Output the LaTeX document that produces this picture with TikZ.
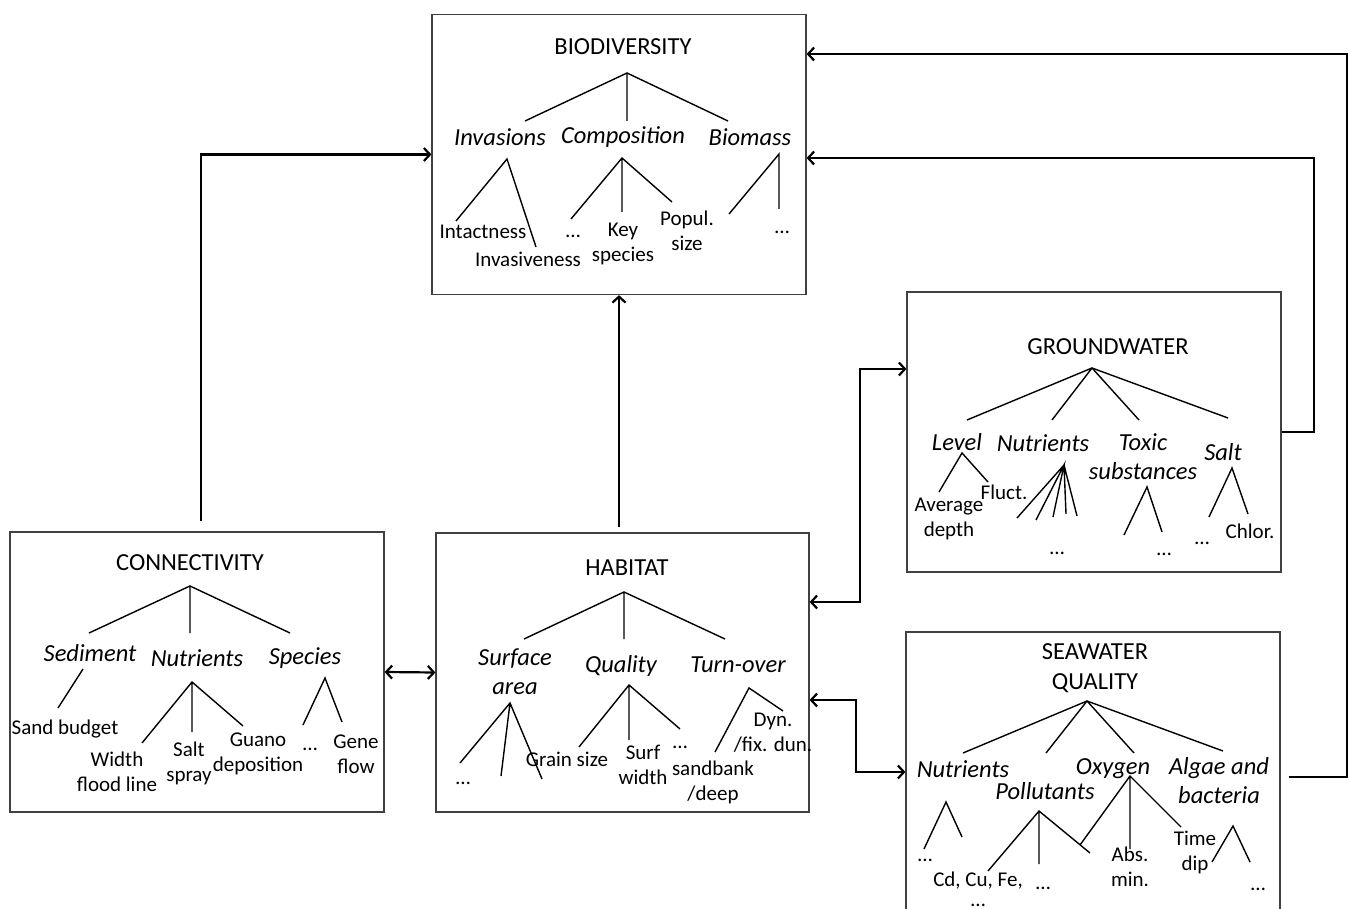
\documentclass[tikz,border=0pt]{standalone}
\usepackage{fontspec}
\setmainfont{Carlito}
\usetikzlibrary{arrows.meta,calc}

\tikzset{
  panel/.style={draw=black!75, line width=1.2pt, minimum width=374pt, minimum height=280pt, inner sep=0pt},
  heading/.style={font=\fontsize{24.5}{30}\selectfont, align=center, inner sep=0pt},
  factor/.style={font=\fontsize{24.5}{29}\selectfont\itshape, align=center, inner sep=0pt},
  leaf/.style={font=\fontsize{21}{25}\selectfont, align=center, inner sep=0pt},
  branch/.style={line width=1.4pt},
  link/.style={line width=2.2pt, -{Straight Barb[length=6pt,width=13pt]}},
  twoway/.style={line width=2.2pt, {Straight Barb[length=6pt,width=13pt]}-{Straight Barb[length=6pt,width=13pt]}},
}

\begin{document}
\begin{tikzpicture}[x=1pt, y=-1pt]
  \useasboundingbox (0,0) rectangle (1349,909);

  % Boxes
  \node[panel] (bio) at (619,154.5) {};
  \node[panel] (conn) at (197,672) {};
  \node[panel, minimum width=373pt, minimum height=279pt] (hab) at (622.5,672.5) {};
  \node[panel] (ground) at (1094,432) {};
  \node[panel] (sea) at (1093,772) {};

  % Biodiversity tree
  \node[heading] (bioT) at (623,47) {BIODIVERSITY};
  \draw[branch] (525,121) -- (627,73) -- (728,121) (627,73) -- (627,121);
  \node[factor] (inv) at (500,137) {Invasions};
  \node[factor] (comp) at (623,137) {Composition};
  \node[factor] (bmass) at (750,137) {Biomass};
  \draw[branch] (456,221) -- (507,159) -- (536,247);
  \draw[branch] (571,219) -- (622,158) -- (672,202) (622,158) -- (622,212);
  \draw[branch] (729,214) -- (779,154) -- (779,209);
  \node[leaf] (intact) at (483,232) {Intactness};
  \node[leaf] (invas) at (528,259) {Invasiveness};
  \node[leaf] (compX) at (573,236) {…};
  \node[leaf] (key) at (623,244) {Key\\species};
  \node[leaf] (popul) at (687,231) {Popul.\\size};
  \node[leaf] (bmassX) at (782,232) {…};

  % Connectivity tree
  \node[heading] (connT) at (190,563) {CONNECTIVITY};
  \draw[branch] (89,633) -- (190,586) -- (290,633) (190,586) -- (190,633);
  \node[factor] (sedi) at (90,653) {Sediment};
  \node[factor] (nutC) at (197,658) {Nutrients};
  \node[factor] (spec) at (305,658) {Species};
  \draw[branch] (83,669) -- (58,708);
  \draw[branch] (142,743) -- (192,682) -- (243,726) (192,682) -- (192,732);
  \draw[branch] (303,725) -- (325,678) -- (342,722);
  \node[leaf] (sand) at (65,729) {Sand budget};
  \node[leaf] (flood) at (117,772) {Width\\flood line};
  \node[leaf] (spray) at (189,763) {Salt\\spray};
  \node[leaf] (guano) at (258,754) {Guano\\deposition};
  \node[leaf] (specX) at (310,749) {…};
  \node[leaf] (gene) at (356,754) {Gene\\flow};

  % Habitat tree
  \node[heading] (habT) at (627,568) {HABITAT};
  \draw[branch] (524,639) -- (624,592) -- (725,639) (624,592) -- (624,639);
  \node[factor] (surf) at (515,672) {Surface\\area};
  \node[factor] (qual) at (621,666) {Quality};
  \node[factor] (turn) at (738,665) {Turn-over};
  \draw[branch] (460,763) -- (510,703) -- (542,779) (510,703) -- (501,776);
  \draw[branch] (579,747) -- (629,685) -- (680,729) (629,685) -- (629,740);
  \draw[branch] (715,752) -- (749,688) -- (783,711);
  \node[leaf] (surfX) at (463,783) {…};
  \node[leaf] (grain) at (567,759) {Grain size};
  \node[leaf] (width) at (643,765) {Surf\\width};
  \node[leaf] (qualX) at (680,747) {…};
  \node[leaf] (dyn) at (773,733) {Dyn.\\/fix. dun.};
  \node[leaf] (bank) at (713,782) {sandbank\\/deep};

  % Groundwater tree
  \node[heading] (groundT) at (1108,347) {GROUNDWATER};
  \draw[branch] (967,420) -- (1092,368) -- (1228,418) (1052,420) -- (1092,368) -- (1139,420);
  \node[factor] (level) at (957,442) {Level};
  \node[factor] (nutG) at (1043,443) {Nutrients};
  \node[factor] (toxic) at (1143,457) {Toxic\\substances};
  \node[factor] (salt) at (1223,452) {Salt};
  \draw[branch] (939,492) -- (962,453) -- (988,482);
  \draw[branch] (1017,518) -- (1064,465) -- (1077,516) (1036,520) -- (1064,465) -- (1053,517) (1064,465) -- (1066,514);
  \draw[branch] (1124,535) -- (1147,487) -- (1162,532);
  \draw[branch] (1209,517) -- (1232,468) -- (1248,514);
  \node[leaf] (fluct) at (1004,492) {Fluct.};
  \node[leaf] (depth) at (949,519) {Average\\depth};
  \node[leaf] (nutGX) at (1057,553) {…};
  \node[leaf] (toxicX) at (1164,554) {…};
  \node[leaf] (saltX) at (1202,543) {…};
  \node[leaf] (chlor) at (1250,531) {Chlor.};

  % Seawater tree
  \node[heading] (seaT) at (1095,668) {SEAWATER\\QUALITY};
  \draw[branch] (963,753) -- (1087,701) -- (1223,751) (1046,753) -- (1087,701) -- (1134,753);
  \node[factor] (nutS) at (963,769) {Nutrients};
  \node[factor] (oxy) at (1113,769) {Oxygen};
  \node[factor] (algae) at (1219,781) {Algae and\\bacteria};
  \node[factor] (poll) at (1045,791) {Pollutants};
  \draw[branch] (924,849) -- (946,802) -- (962,837);
  \draw[branch] (988,871) -- (1039,811) -- (1090,853) (1039,811) -- (1039,864);
  \draw[branch] (1080,845) -- (1130,776) -- (1181,827) (1130,776) -- (1130,849);
  \draw[branch] (1212,862) -- (1233,826) -- (1250,862);
  \node[leaf] (nutSX) at (925,860) {…};
  \node[leaf] (metal) at (978,889) {Cd, Cu, Fe,\\[-5pt]…};
  \node[leaf] (pollX) at (1043,888) {…};
  \node[leaf] (absmin) at (1130,867) {Abs.\\min.};
  \node[leaf] (dip) at (1195,852) {Time\\dip};
  \node[leaf] (algaeX) at (1258,889) {…};

  % Links between boxes
  \draw[link] ([xshift=4pt,yshift=10pt]conn.north) |- (bio.west);
  \draw[link] ($(bio.south |- hab.north)+(0,-5)$) -- (bio.south);
  \draw[twoway] (conn.east) -- (hab.west);
  \coordinate (habG) at ([yshift=70.5pt]hab.east);
  \coordinate (habS) at ([yshift=-27.5pt]hab.east);
  \coordinate (groundIn) at ([yshift=63pt]ground.west);
  \coordinate (bioLow) at ([yshift=-3.5pt]bio.east);
  \coordinate (bioHigh) at ([yshift=100.5pt]bio.east);
  \coordinate (seaOut) at ([xshift=8pt,yshift=-5pt]sea.east);
  \draw[twoway] (habG) -- ++(50,0) |- (groundIn);
  \draw[twoway] (habS) -- ++(46,0) |- (sea.west);
  \draw[link] (ground.east) -- ++(32,0) |- (bioLow);
  \draw[link] (seaOut) -- (1347,777) |- (bioHigh);
\end{tikzpicture}
\end{document}
